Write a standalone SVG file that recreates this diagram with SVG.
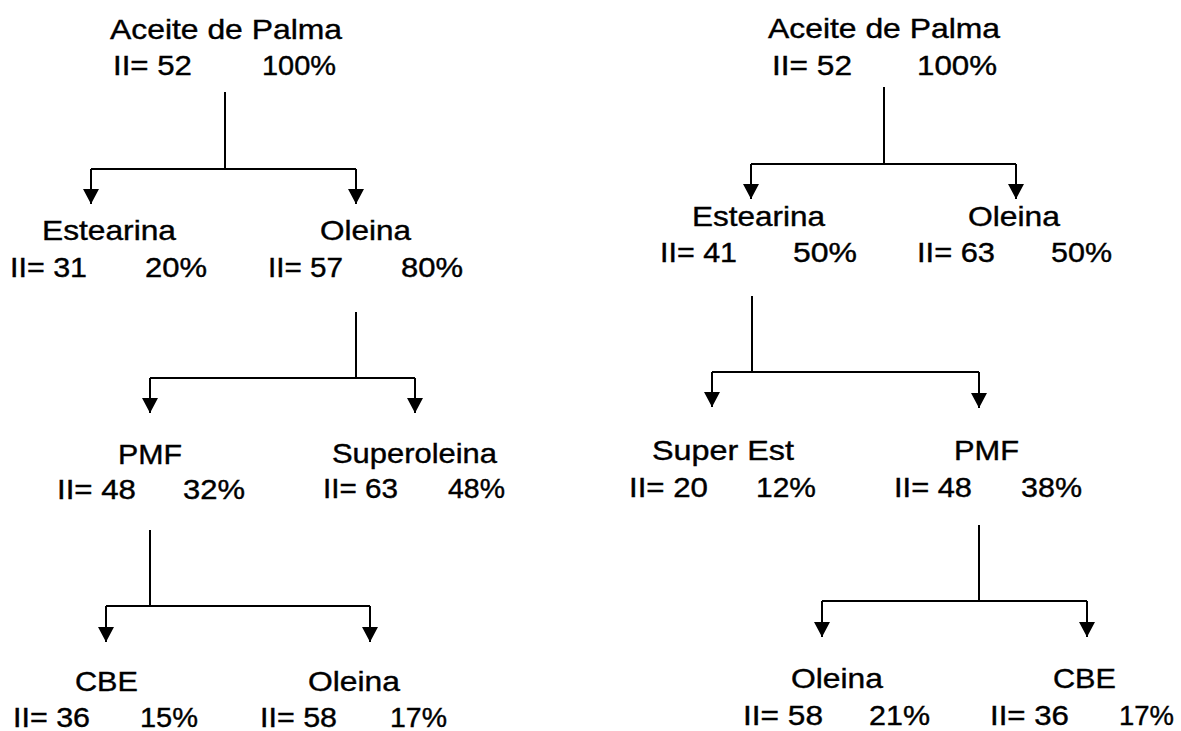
<svg xmlns="http://www.w3.org/2000/svg" width="1181" height="731" viewBox="0 0 1181 731">
  <style>
    .t { font-family: "Liberation Sans", Arial, sans-serif; font-size: 28px; fill: #000; stroke: #000; stroke-width: 0.4; }
    .c { fill: none; stroke: #000; stroke-width: 2; }
  </style>
  <defs>
    <marker id="arrow" viewBox="0 0 15 16" refX="15" refY="8" markerWidth="15" markerHeight="16" markerUnits="userSpaceOnUse" orient="auto">
      <path d="M0,0 L15,8 L0,16 Z" fill="#000"/>
    </marker>
  </defs>
  <rect width="1181" height="731" fill="#fff"/>

  <g id="connectors">
    <!-- left tree -->
    <path class="c" d="M225,92 V169 M91,169 H356"/>
    <path class="c" d="M91,169 V204" marker-end="url(#arrow)"/>
    <path class="c" d="M356,169 V204" marker-end="url(#arrow)"/>

    <path class="c" d="M356,312 V378 M150,378 H415"/>
    <path class="c" d="M150,378 V413" marker-end="url(#arrow)"/>
    <path class="c" d="M415,378 V413" marker-end="url(#arrow)"/>

    <path class="c" d="M150,530 V606 M106,606 H370"/>
    <path class="c" d="M106,606 V642" marker-end="url(#arrow)"/>
    <path class="c" d="M370,606 V642" marker-end="url(#arrow)"/>

    <!-- right tree -->
    <path class="c" d="M884,87 V164 M751,164 H1016"/>
    <path class="c" d="M751,164 V199" marker-end="url(#arrow)"/>
    <path class="c" d="M1016,164 V199" marker-end="url(#arrow)"/>

    <path class="c" d="M752,296 V372 M712,372 H979"/>
    <path class="c" d="M712,372 V407" marker-end="url(#arrow)"/>
    <path class="c" d="M979,372 V408" marker-end="url(#arrow)"/>

    <path class="c" d="M979,525 V601 M822,601 H1087"/>
    <path class="c" d="M822,601 V637" marker-end="url(#arrow)"/>
    <path class="c" d="M1087,601 V637" marker-end="url(#arrow)"/>
  </g>

  <!-- left tree nodes -->
  <g id="l-palma">
    <text class="t" x="110" y="39" textLength="232" lengthAdjust="spacingAndGlyphs">Aceite de Palma</text>
    <text class="t" x="113" y="75" textLength="79" lengthAdjust="spacingAndGlyphs">II= 52</text>
    <text class="t" x="262" y="75" textLength="74" lengthAdjust="spacingAndGlyphs">100%</text>
  </g>
  <g id="l-estearina">
    <text class="t" x="42" y="240" textLength="134" lengthAdjust="spacingAndGlyphs">Estearina</text>
    <text class="t" x="10" y="277" textLength="77" lengthAdjust="spacingAndGlyphs">II= 31</text>
    <text class="t" x="145" y="277" textLength="62" lengthAdjust="spacingAndGlyphs">20%</text>
  </g>
  <g id="l-oleina">
    <text class="t" x="320" y="240" textLength="91" lengthAdjust="spacingAndGlyphs">Oleina</text>
    <text class="t" x="268" y="277" textLength="75" lengthAdjust="spacingAndGlyphs">II= 57</text>
    <text class="t" x="401" y="277" textLength="62" lengthAdjust="spacingAndGlyphs">80%</text>
  </g>
  <g id="l-pmf">
    <text class="t" x="118" y="464" textLength="64" lengthAdjust="spacingAndGlyphs">PMF</text>
    <text class="t" x="57" y="499" textLength="79" lengthAdjust="spacingAndGlyphs">II= 48</text>
    <text class="t" x="183" y="499" textLength="62" lengthAdjust="spacingAndGlyphs">32%</text>
  </g>
  <g id="l-superoleina">
    <text class="t" x="332" y="463" textLength="165" lengthAdjust="spacingAndGlyphs">Superoleina</text>
    <text class="t" x="323" y="498" textLength="75" lengthAdjust="spacingAndGlyphs">II= 63</text>
    <text class="t" x="448" y="498" textLength="57" lengthAdjust="spacingAndGlyphs">48%</text>
  </g>
  <g id="l-cbe">
    <text class="t" x="75" y="691" textLength="63" lengthAdjust="spacingAndGlyphs">CBE</text>
    <text class="t" x="13" y="727" textLength="77" lengthAdjust="spacingAndGlyphs">II= 36</text>
    <text class="t" x="140" y="727" textLength="58" lengthAdjust="spacingAndGlyphs">15%</text>
  </g>
  <g id="l-oleina2">
    <text class="t" x="308" y="691" textLength="92" lengthAdjust="spacingAndGlyphs">Oleina</text>
    <text class="t" x="260" y="727" textLength="77" lengthAdjust="spacingAndGlyphs">II= 58</text>
    <text class="t" x="390" y="727" textLength="57" lengthAdjust="spacingAndGlyphs">17%</text>
  </g>

  <!-- right tree nodes -->
  <g id="r-palma">
    <text class="t" x="768" y="38" textLength="232" lengthAdjust="spacingAndGlyphs">Aceite de Palma</text>
    <text class="t" x="772" y="75" textLength="80" lengthAdjust="spacingAndGlyphs">II= 52</text>
    <text class="t" x="917" y="75" textLength="80" lengthAdjust="spacingAndGlyphs">100%</text>
  </g>
  <g id="r-estearina">
    <text class="t" x="692" y="226" textLength="133" lengthAdjust="spacingAndGlyphs">Estearina</text>
    <text class="t" x="660" y="262" textLength="77" lengthAdjust="spacingAndGlyphs">II= 41</text>
    <text class="t" x="793" y="262" textLength="64" lengthAdjust="spacingAndGlyphs">50%</text>
  </g>
  <g id="r-oleina">
    <text class="t" x="968" y="226" textLength="92" lengthAdjust="spacingAndGlyphs">Oleina</text>
    <text class="t" x="917" y="262" textLength="78" lengthAdjust="spacingAndGlyphs">II= 63</text>
    <text class="t" x="1051" y="262" textLength="61" lengthAdjust="spacingAndGlyphs">50%</text>
  </g>
  <g id="r-superest">
    <text class="t" x="652" y="460" textLength="142" lengthAdjust="spacingAndGlyphs">Super Est</text>
    <text class="t" x="629" y="497" textLength="79" lengthAdjust="spacingAndGlyphs">II= 20</text>
    <text class="t" x="756" y="497" textLength="60" lengthAdjust="spacingAndGlyphs">12%</text>
  </g>
  <g id="r-pmf">
    <text class="t" x="954" y="460" textLength="65" lengthAdjust="spacingAndGlyphs">PMF</text>
    <text class="t" x="894" y="497" textLength="78" lengthAdjust="spacingAndGlyphs">II= 48</text>
    <text class="t" x="1021" y="497" textLength="61" lengthAdjust="spacingAndGlyphs">38%</text>
  </g>
  <g id="r-oleina2">
    <text class="t" x="791" y="688" textLength="92" lengthAdjust="spacingAndGlyphs">Oleina</text>
    <text class="t" x="743" y="725" textLength="80" lengthAdjust="spacingAndGlyphs">II= 58</text>
    <text class="t" x="869" y="725" textLength="61" lengthAdjust="spacingAndGlyphs">21%</text>
  </g>
  <g id="r-cbe">
    <text class="t" x="1053" y="688" textLength="63" lengthAdjust="spacingAndGlyphs">CBE</text>
    <text class="t" x="990" y="725" textLength="79" lengthAdjust="spacingAndGlyphs">II= 36</text>
    <text class="t" x="1119" y="725" textLength="55" lengthAdjust="spacingAndGlyphs">17%</text>
  </g>
</svg>
